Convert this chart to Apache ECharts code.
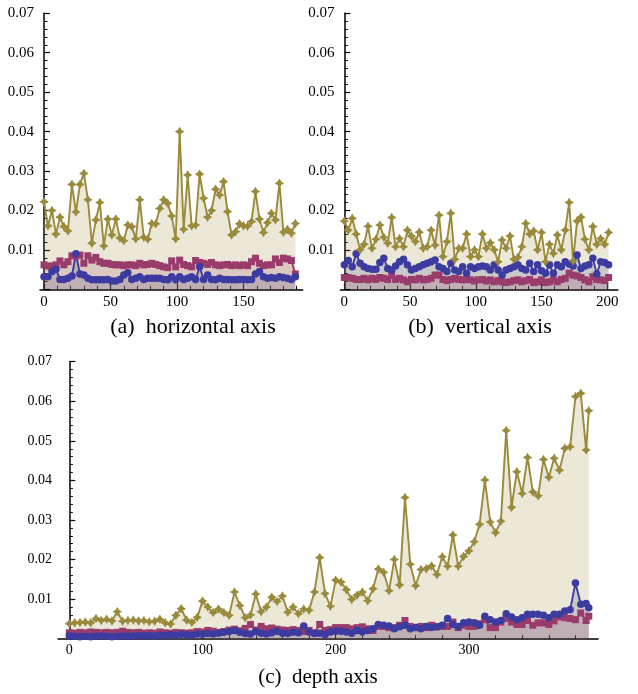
<!DOCTYPE html>
<html><head><meta charset="utf-8">
<script src="https://cdn.jsdelivr.net/npm/echarts@6/dist/echarts.min.js"></script>
<style>html,body{margin:0;padding:0;background:#fff}#c{width:638px;height:694px}</style>
</head><body><div id="c"></div>
<script>
// ---------- data ----------
const xA = [0,3,6,9,12,15,18,21,24,27,30,33,36,39,42,45,48,51,54,57,60,63,66,69,72,75,78,81,84,87,90,93,96,99,102,105,108,111,114,117,120,123,126,129,132,135,138,141,144,147,150,153,156,159,162,165,168,171,174,177,180,183,186,189];
const goldA = [.0222,.0161,.0200,.0140,.0183,.0159,.0148,.0266,.0196,.0266,.0294,.0227,.0117,.0176,.0220,.0110,.0178,.0138,.0178,.0130,.0123,.0163,.0159,.0128,.0227,.0132,.0127,.0167,.0166,.0205,.0227,.0218,.0186,.0128,.0400,.0152,.0290,.0161,.0163,.0292,.0231,.0183,.0200,.0254,.0239,.0273,.0197,.0138,.0146,.0166,.0161,.0160,.0172,.0248,.0178,.0144,.0169,.0193,.0176,.0269,.0145,.0152,.0142,.0167];
const magentaA = [.0062,.0059,.0059,.0062,.0072,.0062,.0070,.0085,.0085,.0087,.0066,.0085,.0074,.0081,.0070,.0066,.0066,.0063,.0062,.0062,.0060,.0062,.0062,.0060,.0066,.0062,.0063,.0066,.0063,.0060,.0057,.0055,.0072,.0057,.0074,.0063,.0060,.0057,.0073,.0068,.0066,.0063,.0068,.0062,.0060,.0062,.0063,.0060,.0062,.0060,.0062,.0060,.0070,.0079,.0066,.0060,.0062,.0062,.0077,.0068,.0079,.0077,.0073,.0039];
const blueA = [.0032,.0032,.0045,.0051,.0025,.0025,.0028,.0034,.0090,.0039,.0036,.0028,.0024,.0024,.0024,.0024,.0025,.0021,.0021,.0025,.0036,.0042,.0025,.0028,.0032,.0025,.0028,.0028,.0028,.0028,.0025,.0024,.0032,.0024,.0032,.0025,.0028,.0032,.0025,.0057,.0025,.0036,.0025,.0024,.0028,.0025,.0025,.0024,.0024,.0025,.0025,.0024,.0025,.0039,.0045,.0032,.0028,.0030,.0028,.0032,.0030,.0028,.0025,.0032];

const xB = [0,3,6,9,12,15,18,21,24,27,30,33,36,39,42,45,48,51,54,57,60,63,66,69,72,75,78,81,84,87,90,93,96,99,102,105,108,111,114,117,120,123,126,129,132,135,138,141,144,147,150,153,156,159,162,165,168,171,174,177,180,183,186,189,192,195,198,201];
const goldB = [.0173,.0150,.0180,.0140,.0100,.0114,.0160,.0104,.0127,.0163,.0132,.0117,.0182,.0108,.0129,.0108,.0150,.0135,.0121,.0145,.0104,.0108,.0150,.0112,.0188,.0083,.0121,.0193,.0076,.0104,.0104,.0140,.0083,.0100,.0083,.0140,.0104,.0118,.0100,.0070,.0125,.0104,.0135,.0076,.0081,.0108,.0167,.0140,.0148,.0100,.0144,.0070,.0114,.0091,.0138,.0100,.0150,.0220,.0072,.0173,.0183,.0127,.0100,.0159,.0114,.0129,.0114,.0144];
const blueB = [.0062,.0073,.0057,.0090,.0066,.0057,.0053,.0051,.0051,.0068,.0079,.0053,.0049,.0059,.0070,.0076,.0062,.0049,.0053,.0057,.0062,.0066,.0070,.0074,.0057,.0053,.0045,.0066,.0049,.0045,.0057,.0041,.0057,.0053,.0057,.0059,.0057,.0049,.0062,.0049,.0036,.0049,.0053,.0057,.0062,.0053,.0049,.0066,.0045,.0062,.0047,.0041,.0062,.0041,.0062,.0057,.0070,.0064,.0059,.0087,.0053,.0059,.0062,.0079,.0039,.0070,.0068,.0062];
const magentaB = [.0030,.0030,.0028,.0025,.0025,.0028,.0024,.0028,.0025,.0030,.0028,.0025,.0036,.0025,.0028,.0024,.0019,.0025,.0024,.0028,.0024,.0025,.0028,.0036,.0036,.0025,.0022,.0025,.0028,.0025,.0024,.0025,.0024,.0021,.0024,.0025,.0021,.0024,.0019,.0022,.0019,.0017,.0019,.0022,.0024,.0019,.0022,.0025,.0017,.0019,.0024,.0017,.0019,.0024,.0019,.0025,.0028,.0041,.0036,.0034,.0030,.0024,.0019,.0032,.0025,.0024,.0022,.0030];

const xC = [0,4,8,12,16,20,24,28,32,36,40,44,48,52,56,60,64,68,72,76,80,84,88,92,96,100,104,108,112,116,120,124,128,132,136,140,144,148,152,156,160,164,168,172,176,180,184,188,192,196,200,204,208,212,216,220,224,228,232,236,240,244,248,252,256,260,264,268,272,276,280,284,288,292,296,300,304,308,312,316,320,324,328,332,336,340,344,348,352,356,360,364,368,372,376,380,384,388,390];
const goldC = [.0038,.0040,.0041,.0042,.0040,.0051,.0046,.0049,.0045,.0068,
.0044,.0046,.0047,.0045,.0046,.0043,.0044,.0049,.0040,.0037,
.0059,.0076,.0047,.0041,.0054,.0095,.0080,.0066,.0075,.0066,
.0059,.0118,.0084,.0053,.0060,.0113,.0068,.0080,.0105,.0094,
.0108,.0067,.0080,.0063,.0075,.0072,.0118,.0205,.0114,.0082,
.0148,.0143,.0124,.0099,.0110,.0118,.0096,.0126,.0176,.0168,
.0121,.0200,.0136,.0357,.0188,.0134,.0175,.0177,.0184,.0162,
.0207,.0183,.0262,.0183,.0208,.0222,.0245,.0289,.0401,.0295,
.0268,.0297,.0526,.0332,.0422,.0367,.0458,.0371,.0361,.0453,
.0408,.0456,.0426,.0481,.0485,.0612,.0620,.0477,.0576];
const blueC = [.0007,.0006,.0005,.0006,.0005,.0006,.0007,.0006,.0005,.0006,
.0007,.0006,.0007,.0008,.0007,.0008,.0007,.0009,.0008,.0010,
.0009,.0011,.0010,.0009,.0012,.0011,.0013,.0012,.0014,.0016,
.0018,.0021,.0016,.0013,.0012,.0018,.0014,.0012,.0015,.0019,
.0014,.0013,.0016,.0015,.0032,.0017,.0013,.0014,.0010,.0017,
.0019,.0019,.0017,.0014,.0021,.0017,.0021,.0025,.0036,.0034,
.0032,.0025,.0030,.0034,.0025,.0028,.0025,.0031,.0028,.0030,
.0034,.0051,.0036,.0031,.0040,.0042,.0040,.0034,.0057,.0048,
.0042,.0046,.0063,.0055,.0048,.0053,.0062,.0062,.0062,.0059,
.0053,.0062,.0062,.0070,.0073,.0141,.0087,.0089,.0078];
const magentaC = [.0015,.0014,.0016,.0015,.0017,.0016,.0015,.0016,.0015,.0016,
.0019,.0016,.0015,.0016,.0014,.0015,.0014,.0017,.0015,.0014,
.0016,.0015,.0014,.0015,.0018,.0017,.0021,.0019,.0016,.0018,
.0022,.0024,.0020,.0026,.0036,.0022,.0031,.0025,.0027,.0024,
.0022,.0021,.0023,.0021,.0018,.0021,.0015,.0036,.0021,.0023,
.0028,.0028,.0028,.0025,.0028,.0030,.0025,.0021,.0031,.0031,
.0028,.0028,.0034,.0046,.0031,.0028,.0031,.0028,.0034,.0030,
.0031,.0031,.0042,.0028,.0034,.0031,.0031,.0038,.0048,.0028,
.0028,.0042,.0051,.0042,.0036,.0036,.0046,.0034,.0040,.0040,
.0036,.0045,.0055,.0053,.0051,.0048,.0065,.0046,.0057];

const majorTicksA = [0,50,100,150];
const minorTicksA = [10,20,30,40,60,70,80,90,110,120,130,140,160,170,180,190];
const majorTicksB = [0,50,100,150,200];
const minorTicksB = [10,20,30,40,60,70,80,90,110,120,130,140,160,170,180,190];
const majorTicksC = [0,100,200,300];
const minorTicksC = [20,40,60,80,120,140,160,180,220,240,260,280,320,340,360,380];
const captions = ['(a)  horizontal axis', '(b)  vertical axis', '(c)  depth axis'];

// ---------- styling ----------
const BLUE = '#3b3ba0', MAGENTA = '#993c6b', GOLD = '#9a8a3c';
const FONT = "'Liberation Serif','Times New Roman',serif";
const STAR = 'path://M0,-10 L3.8,-3.8 L10,0 L3.8,3.8 L0,10 L-3.8,3.8 L-10,0 L-3.8,-3.8 Z';

const zip = (xs, ys) => xs.map((x, i) => [x, ys[i]]);

const grids = [
  {left: 40, top: 13.3, width: 262.7, height: 276},
  {left: 340.4, top: 13.3, width: 277.4, height: 276},
  {left: 58, top: 361.7, width: 540.1, height: 277}
];
grids.forEach(g => { g.containLabel = false; g.outerBoundsMode = 'none'; });

const ranges = [[-3, 194.5], [-3, 208], [-8.5, 397]];
const majors = [majorTicksA, majorTicksB, majorTicksC];
const minors = [minorTicksA, minorTicksB, minorTicksC];
const fsz = [15, 15, 14];

const xAxes = [], yAxes = [];
for (let g = 0; g < 3; g++) {
  xAxes.push({
    gridIndex: g, type: 'value', min: ranges[g][0], max: ranges[g][1], position: 'bottom',
    axisLine: {show: true, onZero: false, lineStyle: {color: '#000', width: 1.5}},
    axisTick: {show: true, inside: true, length: 6, customValues: majors[g], lineStyle: {color: '#000', width: 1.2}},
    axisLabel: {show: true, customValues: majors[g], margin: 5, fontFamily: FONT, fontSize: fsz[g], color: '#000'},
    splitLine: {show: false}
  });
  xAxes.push({
    gridIndex: g, type: 'value', min: ranges[g][0], max: ranges[g][1], position: 'bottom',
    axisLine: {show: false, onZero: false},
    axisTick: {show: true, inside: true, length: 3.5, customValues: minors[g], lineStyle: {color: '#000', width: 1}},
    axisLabel: {show: false},
    splitLine: {show: false}
  });
  yAxes.push({
    gridIndex: g, type: 'value', min: 0, max: 0.07, interval: 0.01,
    axisLine: {show: true, onZero: true, onZeroAxisIndex: g * 2, lineStyle: {color: '#000', width: 1.5}},
    axisTick: {show: true, inside: true, length: 6, lineStyle: {color: '#000', width: 1.2}},
    minorTick: {show: true, splitNumber: 5, length: 3.5, lineStyle: {color: '#000', width: 1}},
    axisLabel: {margin: 6, fontFamily: FONT, fontSize: fsz[g], color: '#000',
      formatter: v => v === 0 ? '' : v.toFixed(2)},
    splitLine: {show: false}
  });
}

const panels = [
  {x: xA, gold: goldA, blue: blueA, magenta: magentaA},
  {x: xB, gold: goldB, blue: blueB, magenta: magentaB},
  {x: xC, gold: goldC, blue: blueC, magenta: magentaC}
];

const series = [];
panels.forEach((p, g) => {
  const sets = [[p.magenta, MAGENTA, 'rect', 7], [p.blue, BLUE, 'circle', 7.5], [p.gold, GOLD, STAR, 9.5]];
  sets.forEach(([ys, col]) => {
    series.push({
      type: 'line', xAxisIndex: g * 2, yAxisIndex: g, data: zip(p.x, ys),
      symbol: 'none', lineStyle: {width: 0, opacity: 0},
      areaStyle: {color: col, opacity: 0.2}, z: 1, silent: true
    });
  });
  sets.forEach(([ys, col, sym, sz]) => {
    series.push({
      type: 'line', xAxisIndex: g * 2, yAxisIndex: g, data: zip(p.x, ys),
      symbol: sym, symbolSize: sz, showAllSymbol: true,
      itemStyle: {color: col, opacity: 1}, lineStyle: {color: col, width: 1.9}, z: 3
    });
  });
});

const chart = echarts.init(document.getElementById('c'));
chart.setOption({
  animation: false,
  backgroundColor: '#fff',
  grid: grids,
  xAxis: xAxes,
  yAxis: yAxes,
  series: series,
  graphic: [
    {type: 'text', x: 193, y: 327, style: {text: captions[0], font: "22px 'Liberation Serif', serif", fill: '#000', textAlign: 'center', textVerticalAlign: 'middle'}},
    {type: 'text', x: 480, y: 327, style: {text: captions[1], font: "22px 'Liberation Serif', serif", fill: '#000', textAlign: 'center', textVerticalAlign: 'middle'}},
    {type: 'text', x: 318, y: 677, style: {text: captions[2], font: "21px 'Liberation Serif', serif", fill: '#000', textAlign: 'center', textVerticalAlign: 'middle'}}
  ]
});
</script>
</body></html>
